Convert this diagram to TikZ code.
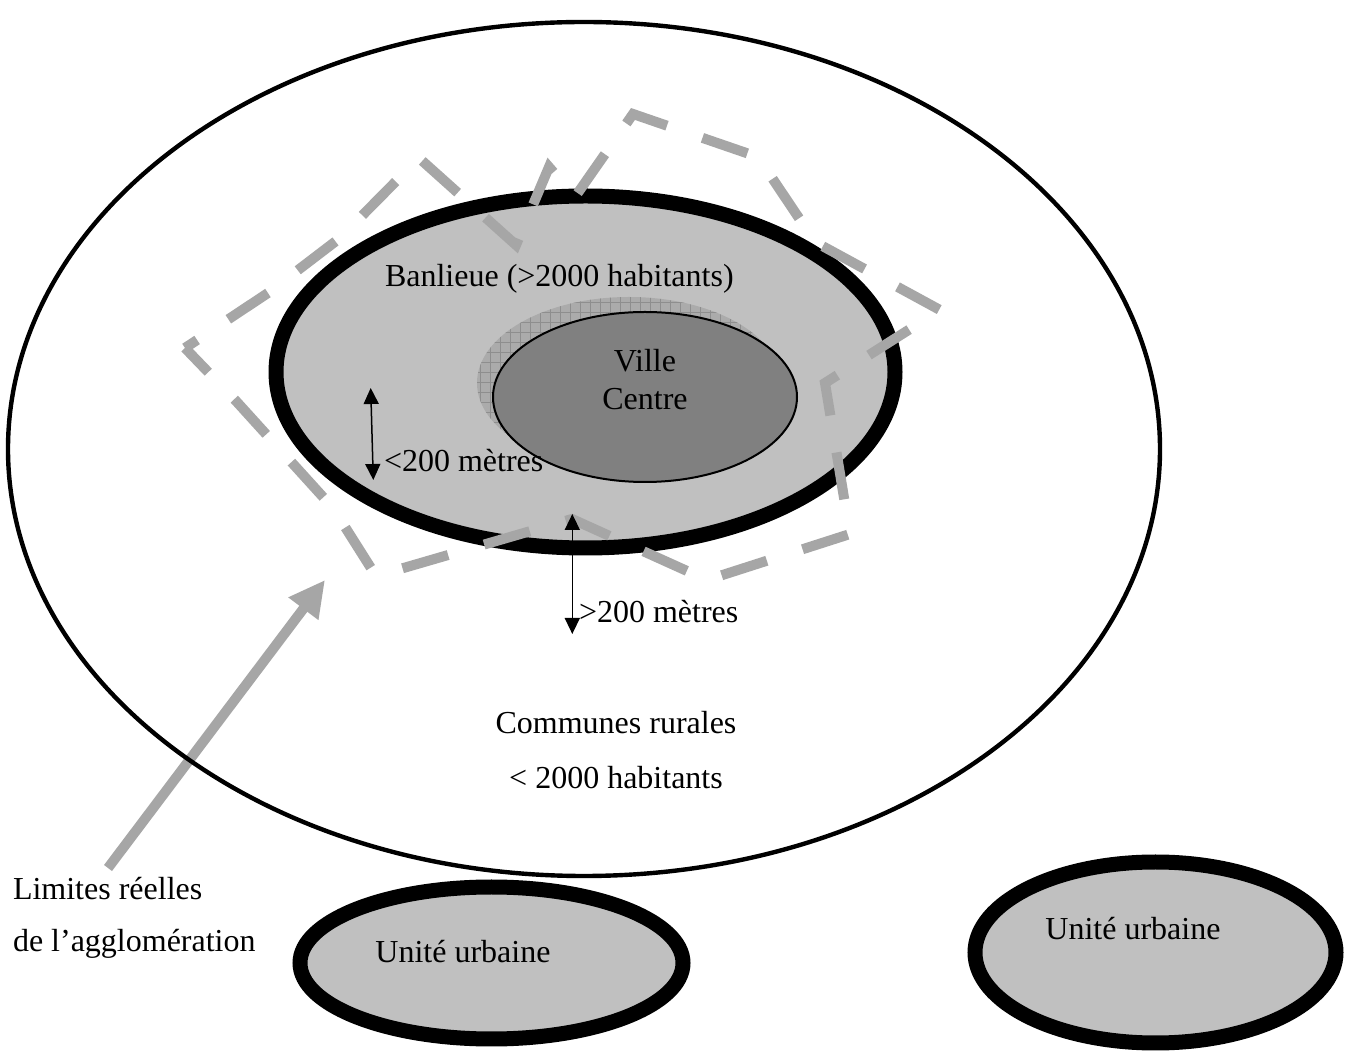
\documentclass[tikz,border=0pt]{standalone}
\usepackage{fontspec}
\setmainfont{Liberation Serif}
\usetikzlibrary{shapes.geometric, arrows.meta, patterns.meta}
\definecolor{zonegray}{HTML}{C0C0C0}
\definecolor{centregray}{HTML}{808080}
\definecolor{fringegray}{HTML}{ABABAB}
\definecolor{gridgray}{HTML}{8E8E8E}
\definecolor{limitgray}{HTML}{A6A6A6}
\begin{document}
\begin{tikzpicture}[x=0.5pt, y=-0.5pt,
  txt/.style={font=\fontsize{16pt}{19pt}\selectfont, inner sep=0pt, outer sep=0pt},
  urbanzone/.style={ellipse, draw=black, fill=zonegray, line width=7.5pt, inner sep=0pt, outer sep=0pt},
  ruralzone/.style={ellipse, draw=black, line width=2.2pt, inner sep=0pt, outer sep=0pt},
  fringe/.style={ellipse, fill=fringegray, inner sep=0pt, outer sep=0pt,
    postaction={pattern={Hatch[angle=0, distance=5pt, line width=0.35pt]}, pattern color=gridgray}},
  centrezone/.style={ellipse, draw=black, fill=centregray, line width=1pt, inner sep=0pt, outer sep=0pt},
  distarrow/.style={draw=black, line width=0.75pt, {Triangle[width=7.5pt, length=8pt]}-{Triangle[width=7.5pt, length=8pt]}},
  pointer/.style={draw=limitgray, line width=5pt, -{Triangle[width=17.5pt, length=18pt]}},
  limitline/.style={draw=limitgray, line width=5pt, line join=miter,
    dash pattern=on 23.75pt off 18.75pt, dash phase=16.5pt}]
\useasboundingbox (0,0) rectangle (1345,1052);
\fill[white] (0,0) rectangle (1345,1052);

% pointer towards the real limits
\coordinate (limtail) at (108,868);
\coordinate (limtip) at (325,580);
\draw[pointer] (limtail) -- (limtip);

% rural communes
\node[ruralzone, minimum width=576pt, minimum height=427pt] (rural) at (584,449) {};

% suburbs, fringe and centre
\node[urbanzone, minimum width=309.5pt, minimum height=176pt] (banlieue) at (585.5,372) {};
\node[fringe, minimum width=152pt, minimum height=86pt] (frange) at (629,383) {};
\node[centrezone, minimum width=152pt, minimum height=85pt] (ville) at (645,397) {};

% other urban units
\node[urbanzone, minimum width=191.5pt, minimum height=76pt] (unite1) at (491.5,963) {};
\node[urbanzone, minimum width=180.5pt, minimum height=90.5pt] (unite2) at (1155.5,952.5) {};

% texts
\node[txt, anchor=base west] (tban) at (385,287) {Banlieue (>2000 habitants)};
\node[txt, anchor=base] (tville) at (645,372) {Ville};
\node[txt, anchor=base] (tcentre) at (645,410) {Centre};
\node[txt, anchor=base west] (tmoins) at (384,472) {<200 mètres};
\node[txt, anchor=base west] (tplus) at (579,623) {>200 mètres};
\node[txt, anchor=base] (tcomm) at (616,734) {Communes rurales};
\node[txt, anchor=base] (thab) at (616,789) {< 2000 habitants};
\node[txt, anchor=base west] (tlim1) at (13,900) {Limites réelles};
\node[txt, anchor=base west] (tlim2) at (13,952) {de l’agglomération};
\node[txt, anchor=base] (tu1) at (463,963) {Unité urbaine};
\node[txt, anchor=base] (tu2) at (1133,940) {Unité urbaine};

% real limits of the agglomeration
\draw[limitline] (185,348) -- (268,293) -- (340,238) -- (419,158) -- (516,245)
  -- (549,167) -- (575,197) -- (633,114) -- (758,157) -- (815,242) -- (940,310)
  -- (825,383) -- (850,534) -- (707,580) -- (572,519) -- (376,576) -- (333,508)
  -- (236,401) -- cycle;

% distance markers
\coordinate (m1a) at (370.7,388);
\coordinate (m1b) at (373.3,480);
\draw[distarrow] (m1a) -- (m1b);
\coordinate (m2a) at (572.3,514);
\coordinate (m2b) at (572.3,634);
\draw[distarrow] (m2a) -- (m2b);
\end{tikzpicture}
\end{document}
